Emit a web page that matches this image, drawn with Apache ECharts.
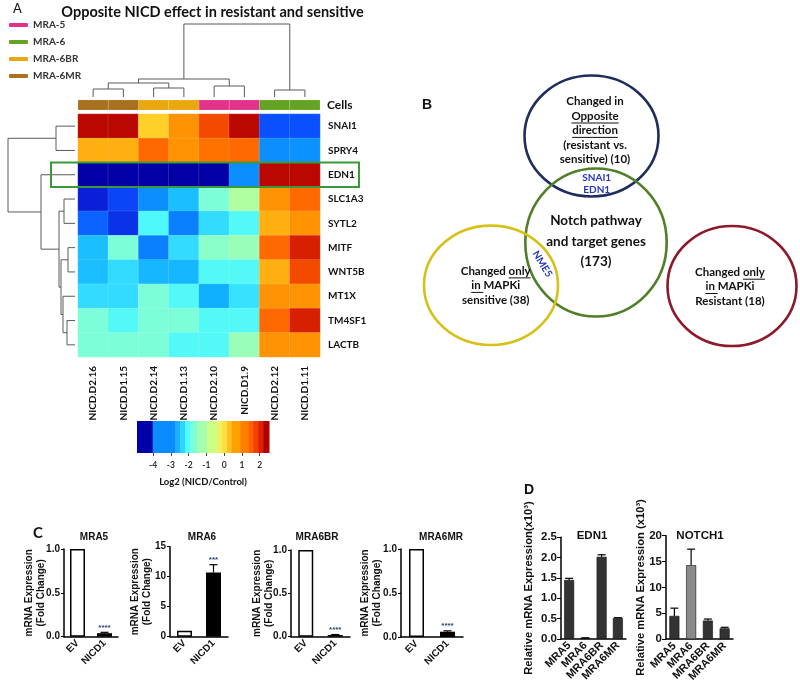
<!DOCTYPE html>
<html>
<head>
<meta charset="utf-8">
<script src="https://cdn.jsdelivr.net/npm/echarts@6/dist/echarts.min.js"></script>
<style>
  html, body { margin: 0; padding: 0; background: #fff; }
  #chart { width: 800px; height: 691px; }
</style>
</head>
<body>
<div id="chart"></div>
<script>
// ---- panel A: heatmap data ----
const samples = ['NICD.D2.16', 'NICD.D1.15', 'NICD.D2.14', 'NICD.D1.13', 'NICD.D2.10', 'NICD.D1.9', 'NICD.D2.12', 'NICD.D1.11'];
const sampleCells = ['MRA-6MR', 'MRA-6MR', 'MRA-6BR', 'MRA-6BR', 'MRA-5', 'MRA-5', 'MRA-6', 'MRA-6'];
const cellLines = ['MRA-5', 'MRA-6', 'MRA-6BR', 'MRA-6MR'];
const genes = ['SNAI1', 'SPRY4', 'EDN1', 'SLC1A3', 'SYTL2', 'MITF', 'WNT5B', 'MT1X', 'TM4SF1', 'LACTB'];
const log2Ratio = [
  [2.4, 2.4, 0.25, 0.9, 1.7, 2.4, -3.5, -3.5],
  [0.5, 0.5, 1.4, 0.9, 1.3, 1.4, -2.85, -2.8],
  [-4.6, -4.6, -4.6, -4.7, -4.7, -2.85, 2.4, 2.4],
  [-4.0, -3.6, -2.85, -2.4, -1.5, -0.8, 0.9, 1.4],
  [-3.3, -3.8, -1.95, -3.0, -2.2, -1.9, 0.5, 0.9],
  [-2.4, -1.5, -3.0, -2.2, -1.3, -1.1, 1.4, 2.1],
  [-2.4, -2.2, -2.45, -2.45, -1.9, -1.9, 0.5, 1.7],
  [-2.2, -2.2, -1.5, -1.9, -2.5, -2.15, 0.9, 0.9],
  [-1.5, -1.9, -1.5, -1.5, -1.9, -1.9, 1.4, 2.1],
  [-1.5, -1.5, -1.5, -1.9, -1.9, -1.1, 0.9, 0.9]
];
const highlightGene = 'EDN1';
// hclust-style merges: negative = leaf (1-based), positive = earlier merge; last = height
const colTree = [[-1, -2, 8], [-3, -4, 9], [-5, -6, 11], [-7, -8, 7], [1, 2, 14], [5, 3, 18], [6, 4, 73]];
const rowTree = [[-1, -2, 19], [-4, -5, 11], [-6, -7, 7], [-9, -10, 8], [-8, 4, 12], [3, 5, 14], [2, 6, 16], [-3, 7, 34], [1, 8, 67]];
const scaleTicks = [-4, -3, -2, -1, 0, 1, 2];
const scaleBreaks = [-4.9, -4.02, -2.75, -2.47, -2.19, -1.91, -1.53, -0.97, -0.41, -0.13, 0.15, 0.43, 0.9, 1.37, 1.65, 1.93, 2.21, 2.52];

// ---- panel B: venn ----
const vennLines = [
  ['Changed in', '[Opposite]', '[direction]', '(resistant vs.', 'sensitive) (10)'],
  ['Notch pathway', 'and target genes', '(173)'],
  ['Changed [only]', '[in ]MAPKi', 'sensitive (38)'],
  ['Changed [only]', '[in ]MAPKi', 'Resistant (18)']
];
const sharedGenes = ['SNAI1', 'EDN1', 'NME5'];

// ---- panel C: fold change ----
const foldGroups = ['EV', 'NICD1'];
const foldLines = ['MRA5', 'MRA6', 'MRA6BR', 'MRA6MR'];
const foldMean = [[1, 0.04], [1, 10.7], [1, 0.02], [1, 0.06]];
const foldErr = [[0, 0.01], [0, 1.3], [0, 0.005], [0, 0.01]];
const foldStars = ['****', '***', '****', '****'];
const foldAxisMax = [1, 15, 1, 1];
const foldAxisStep = [0.5, 5, 0.5, 0.5];

// ---- panel D: relative expression ----
const relLines = ['MRA5', 'MRA6', 'MRA6BR', 'MRA6MR'];
const relGenes = ['EDN1', 'NOTCH1'];
const relMean = [[1.45, 0.02, 2.02, 0.51], [4.5, 14.3, 3.6, 2.1]];
const relErr = [[0.04, 0.005, 0.05, 0.01], [1.5, 3.1, 0.3, 0.2]];
const relAxisMax = [2.5, 20];
const relAxisStep = [0.5, 5];

// ---- styles / layout ----
const SANS = 'Lato';
const ARIAL = 'Liberation Sans';
const cellColors = ['#E3328A', '#64A324', '#E9A80E', '#A8701F'];
const heatColors = ['#0000A0', '#0000A8', '#0A20D8', '#0A50FF', '#0A80FF', '#10B0FF', '#48F8FF', '#7CFFD8',
  '#A0FFB0', '#C8FF88', '#FFF040', '#FFB010', '#FF8C00', '#FF6000', '#E02800', '#B00000'];
const scaleColors = ['#0000A8', '#0A8CFF', '#18B0FF', '#2CD4FF', '#4CFFFF', '#7CFFD8', '#A4FFB0', '#CCFF88',
  '#F0F060', '#FFE040', '#FFC020', '#FFA000', '#FF8000', '#FF6000', '#F04000', '#DD2000', '#B00000'];
const vennShapes = [[171.5, 76, 67, 60.5], [176, 182.5, 70.7, 74], [71, 225.3, 67, 59.7], [312, 226, 64.5, 60]];
const vennColors = ['#1F2D5C', '#4F7F28', '#D6C01A', '#8B1A2B'];
const vennTextLayout = [[175, 41.7, 14.4, 11.5], [176, 161, 20.4, 13.5], [75.7, 211, 14.5, 11.5], [310, 212.3, 14.3, 11.5]];
const sharedGeneAt = [[176.7, 117.7, 0], [176.7, 130, 0], [122.3, 204, -59]];
const foldGrid = [[64, 549, 54, 87.7], [170, 546.7, 58, 90], [291, 550, 59, 86.7], [401, 549, 62, 88]];
const foldNameGap = [17, 17, 16, 18];
const foldTitleX = [94, 202, 317, 441];
const relGrid = [[561, 537.3, 65, 101.5], [666, 535.7, 67, 103.5]];
const relNameGap = [27, 20];
const relTitleX = [592, 700];

const measure = document.createElement('canvas').getContext('2d');

function treeSegments(merges) {
  const pos = [], hgt = [];
  const at = (i) => i < 0 ? [-i - 0.5, 0] : [pos[i - 1], hgt[i - 1]];
  return merges.map(([a, b, h], k) => {
    const A = at(a), B = at(b);
    pos[k] = (A[0] + B[0]) / 2;
    hgt[k] = h;
    return [A[0], A[1], B[0], B[1], h];
  });
}

function dendroItem(sideways) {
  return function (params, api) {
    const p = (pos, h) => api.coord(sideways ? [h, pos] : [pos, h]);
    const pts = [p(api.value(0), api.value(1)), p(api.value(0), api.value(4)),
      p(api.value(2), api.value(4)), p(api.value(2), api.value(3))];
    return { type: 'polyline', shape: { points: pts }, style: { stroke: '#5a5a5a', lineWidth: 1, fill: null } };
  };
}

function errorItem(stars) {
  return function (params, api) {
    const k = api.value(0), m = api.value(1), e = api.value(2);
    const base = api.coord([k, m]);
    const top = api.coord([k, m + e]);
    const children = [];
    if (e > 0) {
      children.push({ type: 'line', shape: { x1: top[0], y1: base[1], x2: top[0], y2: top[1] }, style: { stroke: '#000', lineWidth: 1.2 } });
      children.push({ type: 'line', shape: { x1: top[0] - 4, y1: top[1], x2: top[0] + 4, y2: top[1] }, style: { stroke: '#000', lineWidth: 1.2 } });
    }
    const s = stars ? stars[params.dataIndex] : '';
    if (s) {
      children.push({ type: 'text', x: top[0], y: top[1] - 1, style: { text: s, fontSize: 8, fontFamily: ARIAL, fontWeight: 'bold', fill: '#2E4170', align: 'center', verticalAlign: 'bottom' } });
    }
    return { type: 'group', children };
  };
}

const grids = [], xAxes = [], yAxes = [], series = [];
function addGrid(g, x, y) {
  grids.push(g);
  const i = grids.length - 1;
  xAxes.push(Object.assign({ gridIndex: i }, x));
  yAxes.push(Object.assign({ gridIndex: i }, y));
  return i;
}
const off = { show: false };
const boldLabel = (size, family) => ({ fontSize: size, fontWeight: 'bold', fontFamily: family, color: '#111' });

// top dendrogram
const gTop = addGrid({ left: 78, top: 24, width: 242, height: 73 },
  { type: 'value', min: 0, max: samples.length, show: false },
  { type: 'value', min: 0, max: 73, show: false });
series.push({ type: 'custom', xAxisIndex: gTop, yAxisIndex: gTop, data: treeSegments(colTree), renderItem: dendroItem(false), silent: true });

// cell annotation strip
const gStrip = addGrid({ left: 78, top: 100, width: 242, height: 10 },
  { type: 'category', data: samples, show: false },
  { type: 'category', data: ['Cells'], position: 'right', axisLine: off, axisTick: off,
    axisLabel: Object.assign({ margin: 7 }, boldLabel(12, SANS)) });
cellLines.forEach((line, j) => {
  series.push({
    type: 'custom', name: line, xAxisIndex: gStrip, yAxisIndex: gStrip,
    itemStyle: { color: cellColors[j] },
    data: sampleCells.map((c, i) => c === line ? [i, 0] : null).filter(Boolean),
    renderItem: (params, api) => {
      const c = api.coord([api.value(0), 0]);
      const s = api.size([1, 1]);
      return { type: 'rect', shape: { x: c[0] - s[0] / 2, y: c[1] - s[1] / 2, width: s[0], height: s[1] },
        style: { fill: api.visual('color'), stroke: 'rgba(255,255,255,0.25)', lineWidth: 0.5 } };
    }
  });
});

// heatmap
const gHeat = addGrid({ left: 78, top: 114, width: 242, height: 243 },
  { type: 'category', data: samples, axisLine: off, axisTick: off, splitLine: off,
    axisLabel: Object.assign({ rotate: 90, margin: 9, interval: 0 }, boldLabel(10, SANS)) },
  { type: 'category', data: genes, inverse: true, position: 'right', axisLine: off, axisTick: off,
    axisLabel: Object.assign({ margin: 8, interval: 0 }, boldLabel(10, SANS)) });
const heatData = [];
genes.forEach((g, r) => samples.forEach((s, c) => heatData.push([c, r, log2Ratio[r][c]])));
const heatIndex = series.length;
series.push({ type: 'heatmap', xAxisIndex: gHeat, yAxisIndex: gHeat, data: heatData, silent: true,
  itemStyle: { borderColor: 'rgba(255,255,255,0.22)', borderWidth: 0.6 } });
series.push({
  type: 'custom', xAxisIndex: gHeat, yAxisIndex: gHeat, silent: true, z: 5,
  data: [[0, genes.indexOf(highlightGene)]],
  renderItem: (params, api) => {
    const a = api.coord([0, api.value(1)]);
    const b = api.coord([samples.length - 1, api.value(1)]);
    const s = api.size([1, 1]);
    return { type: 'rect', shape: { x: a[0] - s[0] / 2 - 27, y: a[1] - s[1] / 2, width: b[0] - a[0] + s[0] + 66, height: s[1] },
      style: { fill: null, stroke: '#3A9A3A', lineWidth: 2 } };
  }
});

// left dendrogram
const gLeft = addGrid({ left: 8, top: 114, width: 67, height: 243 },
  { type: 'value', min: 0, max: 67, inverse: true, show: false },
  { type: 'value', min: 0, max: genes.length, inverse: true, show: false });
series.push({ type: 'custom', xAxisIndex: gLeft, yAxisIndex: gLeft, data: treeSegments(rowTree), renderItem: dendroItem(true), silent: true });

// colour scale
const gScale = addGrid({ left: 137, top: 421, width: 132, height: 32 },
  { type: 'value', min: scaleBreaks[0], max: scaleBreaks[scaleBreaks.length - 1], axisLine: off, splitLine: off,
    axisTick: { show: true, length: 3, customValues: scaleTicks, lineStyle: { color: '#444' } },
    axisLabel: Object.assign({ customValues: scaleTicks, margin: 8 }, boldLabel(8.5, SANS), { color: '#333' }),
    name: 'Log2 (NICD/Control)', nameLocation: 'middle', nameGap: 24, nameMoveOverlap: false,
    nameTextStyle: boldLabel(9.5, SANS) },
  { type: 'value', min: 0, max: 1, show: false });
series.push({
  type: 'custom', xAxisIndex: gScale, yAxisIndex: gScale, silent: true,
  data: scaleColors.map((c, i) => [scaleBreaks[i], scaleBreaks[i + 1], i]),
  renderItem: (params, api) => {
    const p0 = api.coord([api.value(0), 1]);
    const p1 = api.coord([api.value(1), 0]);
    return { type: 'rect', shape: { x: p0[0], y: p0[1], width: p1[0] - p0[0] + 0.5, height: p1[1] - p0[1] },
      style: { fill: scaleColors[api.value(2)] } };
  }
});

// venn
const gVenn = addGrid({ left: 420, top: 60, width: 380, height: 300 },
  { type: 'value', min: 0, max: 380, show: false },
  { type: 'value', min: 0, max: 300, inverse: true, show: false });
series.push({
  type: 'custom', xAxisIndex: gVenn, yAxisIndex: gVenn, silent: true,
  data: vennShapes,
  renderItem: (params, api) => {
    const c = api.coord([api.value(0), api.value(1)]);
    const s = api.size([api.value(2), api.value(3)]);
    return { type: 'ellipse', shape: { cx: c[0], cy: c[1], rx: s[0], ry: s[1] },
      style: { fill: null, stroke: vennColors[params.dataIndex], lineWidth: 2.6 } };
  }
});
series.push({
  type: 'custom', xAxisIndex: gVenn, yAxisIndex: gVenn, silent: true, z: 4,
  data: vennTextLayout.map(t => [t[0], t[1]]),
  renderItem: (params, api) => {
    const b = params.dataIndex;
    const [cx, cy, step, size] = vennTextLayout[b];
    measure.font = 'bold ' + size + 'px ' + SANS;
    const children = [];
    vennLines[b].forEach((raw, i) => {
      const plain = raw.replace(/[\[\]]/g, '');
      const p = api.coord([cx, cy + i * step]);
      children.push({ type: 'text', x: p[0], y: p[1],
        style: { text: plain, fontSize: size, fontWeight: 'bold', fontFamily: SANS, fill: '#111', align: 'center', verticalAlign: 'middle' } });
      const m = raw.match(/\[(.*?)\]/);
      if (m) {
        const total = measure.measureText(plain).width;
        const pre = measure.measureText(raw.slice(0, m.index)).width;
        const w = measure.measureText(m[1]).width;
        const x0 = p[0] - total / 2 + pre;
        const uy = p[1] + size * 0.6;
        children.push({ type: 'line', shape: { x1: x0, y1: uy, x2: x0 + w, y2: uy }, style: { stroke: '#111', lineWidth: 1 } });
      }
    });
    return { type: 'group', children };
  }
});
series.push({
  type: 'custom', xAxisIndex: gVenn, yAxisIndex: gVenn, silent: true, z: 4,
  data: sharedGeneAt.map(t => [t[0], t[1]]),
  renderItem: (params, api) => {
    const p = api.coord([api.value(0), api.value(1)]);
    return { type: 'text', x: p[0], y: p[1], rotation: sharedGeneAt[params.dataIndex][2] * Math.PI / 180,
      style: { text: sharedGenes[params.dataIndex], fontSize: 10, fontWeight: 'bold', fontFamily: SANS, fill: '#2535C8', align: 'center', verticalAlign: 'middle' } };
  }
});

// panel C
foldLines.forEach((line, i) => {
  const [l, t, w, h] = foldGrid[i];
  const g = addGrid({ left: l, top: t, width: w, height: h },
    { type: 'category', data: foldGroups, axisLine: { lineStyle: { color: '#000', width: 1.5 } },
      axisTick: { alignWithLabel: true, length: 3, lineStyle: { color: '#000' } },
      axisLabel: Object.assign({ rotate: 45, margin: 5, interval: 0 }, boldLabel(10, ARIAL)) },
    { type: 'value', min: 0, max: foldAxisMax[i], interval: foldAxisStep[i], splitLine: off,
      axisLine: { show: true, lineStyle: { color: '#000', width: 1.5 } },
      axisTick: { show: true, length: 3, lineStyle: { color: '#000' } },
      axisLabel: Object.assign({ margin: 4, formatter: v => foldAxisStep[i] < 1 ? v.toFixed(1) : String(v) }, boldLabel(10, ARIAL)),
      name: 'mRNA Expression\n(Fold Change)', nameLocation: 'middle', nameRotate: 90, nameGap: foldNameGap[i],
      nameMoveOverlap: false,
      nameTextStyle: Object.assign({ lineHeight: 12 }, boldLabel(10, ARIAL)) });
  series.push({ type: 'bar', xAxisIndex: g, yAxisIndex: g, barWidth: 15, silent: true,
    data: foldMean[i].map((v, k) => ({ value: v, itemStyle: k === 0 ? { color: '#fff', borderColor: '#000', borderWidth: 1.5 } : { color: '#000' } })) });
  series.push({ type: 'custom', xAxisIndex: g, yAxisIndex: g, silent: true, z: 3,
    data: foldMean[i].map((v, k) => [k, v, foldErr[i][k]]),
    renderItem: errorItem(foldGroups.map((grp, k) => k === 1 ? foldStars[i] : '')) });
});

// panel D
relGenes.forEach((gene, i) => {
  const [l, t, w, h] = relGrid[i];
  const g = addGrid({ left: l, top: t, width: w, height: h },
    { type: 'category', data: relLines, axisLine: { lineStyle: { color: '#000', width: 1.5 } },
      axisTick: { alignWithLabel: true, length: 3, lineStyle: { color: '#000' } },
      axisLabel: Object.assign({ rotate: 45, margin: 5, interval: 0 }, boldLabel(11, ARIAL)) },
    { type: 'value', min: 0, max: relAxisMax[i], interval: relAxisStep[i], splitLine: off,
      axisLine: { show: true, lineStyle: { color: '#000', width: 1.5 } },
      axisTick: { show: true, length: 4, lineStyle: { color: '#000' } },
      axisLabel: Object.assign({ margin: 4, formatter: v => relAxisStep[i] < 1 ? v.toFixed(1) : String(v) }, boldLabel(11.5, ARIAL)),
      name: i === 0 ? 'Relative mRNA Expression(x10³)' : 'Relative mRNA Expression (x10³)',
      nameLocation: 'middle', nameRotate: 90, nameGap: relNameGap[i], nameMoveOverlap: false,
      nameTextStyle: boldLabel(11.2, ARIAL) });
  series.push({ type: 'bar', xAxisIndex: g, yAxisIndex: g, barWidth: 10, silent: true,
    data: relMean[i].map((v, k) => ({ value: v,
      itemStyle: { color: (i === 1 && relLines[k] === 'MRA6') ? '#8A8A8A' : '#333', borderColor: '#111', borderWidth: 0.6 } })) });
  series.push({ type: 'custom', xAxisIndex: g, yAxisIndex: g, silent: true, z: 3,
    data: relMean[i].map((v, k) => [k, v, relErr[i][k]]), renderItem: errorItem(null) });
});

const txt = (text, x, y, size, family, weight, align) => ({
  type: 'text', x, y, silent: true,
  style: { text, fontSize: size, fontFamily: family, fontWeight: weight || 'bold', fill: '#111', align: align || 'center', verticalAlign: 'middle' }
});

const graphics = [
  txt('A', 13, 9, 13, SANS, 'normal', 'left'),
  txt('Opposite NICD effect in resistant and sensitive', 212.5, 12, 14.5, SANS),
  txt('B', 422, 105, 14, ARIAL, 'bold', 'left'),
  txt('C', 33, 533, 15, SANS, 'bold', 'left'),
  txt('D', 524, 490, 14, ARIAL, 'bold', 'left')
];
foldLines.forEach((line, i) => graphics.push(txt(line, foldTitleX[i], 537, 10, ARIAL)));
relGenes.forEach((gene, i) => graphics.push(txt(gene, relTitleX[i], 536, 11.5, ARIAL)));

const chart = echarts.init(document.getElementById('chart'), null, { renderer: 'canvas' });
chart.setOption({
  animation: false,
  backgroundColor: '#fff',
  textStyle: { fontFamily: SANS },
  legend: {
    data: cellLines, orient: 'vertical', left: 4, top: 15, itemWidth: 19, itemHeight: 4, itemGap: 7,
    icon: 'roundRect', selectedMode: false,
    textStyle: { fontFamily: SANS, fontWeight: 'bold', fontSize: 10, color: '#333' }
  },
  visualMap: [{
    type: 'continuous', show: false, seriesIndex: heatIndex, min: -5, max: 2.5, inRange: { color: heatColors }
  }],
  grid: grids,
  xAxis: xAxes,
  yAxis: yAxes,
  series: series,
  graphic: graphics
});
</script>
</body>
</html>
